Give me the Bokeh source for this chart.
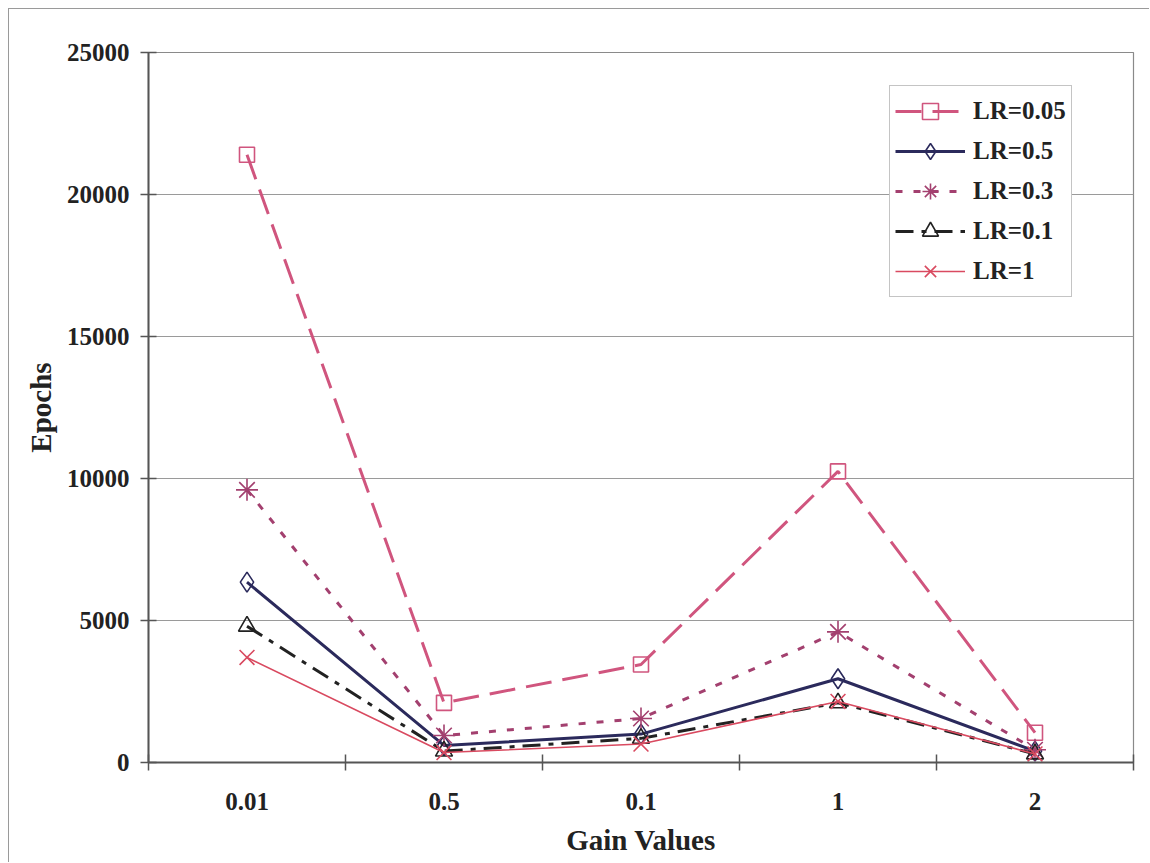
from bokeh.plotting import figure
from bokeh.models import Range1d, FixedTicker, Legend
from bokeh.embed import file_html
from bokeh.resources import INLINE

# Epochs needed to train for each gain value, per learning rate
gains = ["0.01", "0.5", "0.1", "1", "2"]
lr_005 = [21400, 2100, 3450, 10250, 1050]
lr_05 = [6350, 600, 1000, 2950, 400]
lr_03 = [9600, 950, 1550, 4600, 450]
lr_01 = [4800, 400, 850, 2100, 300]
lr_1 = [3700, 350, 650, 2150, 300]
y_ticks = [0, 5000, 10000, 15000, 20000, 25000]

FONT = "Liberation Serif"
TEXT = "#222222"

# category centres on a numeric axis, so tick marks can sit between categories
xs = [i + 0.5 for i in range(len(gains))]

p = figure(
    width=1141, height=854,
    x_range=Range1d(0, len(gains)), y_range=Range1d(0, 25000),
    output_backend="svg", toolbar_location=None,
    min_border_left=139, min_border_right=17,
    min_border_top=43, min_border_bottom=101,
    margin=(8, 0, 0, 8),
    styles={"border-left": "1px solid #9a9a9a", "border-top": "1px solid #9a9a9a"},
)
p.background_fill_color = "white"
p.border_fill_color = "white"
p.outline_line_color = "#8a8a8a"
p.outline_line_width = 1.2

# x axis: labels at centres, tick marks at category boundaries
p.xaxis.ticker = FixedTicker(ticks=xs, minor_ticks=list(range(len(gains) + 1)))
p.xaxis.major_label_overrides = {x: g for x, g in zip(xs, gains)}
p.xaxis.major_tick_line_color = None
p.xaxis.minor_tick_line_color = "#555555"
p.xaxis.minor_tick_line_width = 1.5
p.xaxis.minor_tick_in = 8
p.xaxis.minor_tick_out = 8
p.xaxis.axis_line_color = "#555555"
p.xaxis.axis_line_width = 2
p.xaxis.major_label_standoff = 22
p.xaxis.axis_label = "Gain Values"
p.xaxis.axis_label_standoff = 11

# y axis
p.yaxis.ticker = FixedTicker(ticks=y_ticks)
p.yaxis.major_tick_line_color = "#555555"
p.yaxis.major_tick_line_width = 1.5
p.yaxis.major_tick_in = 8
p.yaxis.major_tick_out = 8
p.yaxis.minor_tick_line_color = None
p.yaxis.axis_line_color = "#555555"
p.yaxis.axis_line_width = 2
p.yaxis.major_label_standoff = 11
p.yaxis.axis_label = "Epochs"
p.yaxis.axis_label_standoff = 7

for ax in (p.xaxis, p.yaxis):
    ax.major_label_text_font = FONT
    ax.major_label_text_font_style = "bold"
    ax.major_label_text_font_size = "25px"
    ax.major_label_text_color = TEXT
    ax.axis_label_text_font = FONT
    ax.axis_label_text_font_style = "bold"
    ax.axis_label_text_font_size = "29px"
    ax.axis_label_text_color = TEXT

p.xgrid.grid_line_color = None
p.ygrid.grid_line_color = "#9a9a9a"
p.ygrid.grid_line_width = 1.2

series = [
    ("LR=0.05", lr_005, "#d0557e", 3, "26 11", "square", 15),
    ("LR=0.5", lr_05, "#2b2a5c", 3, "solid", "diamond", 20),
    ("LR=0.3", lr_03, "#a3406f", 3, "7 11", "asterisk", 22),
    ("LR=0.1", lr_01, "#222222", 3, "18 8 5 8", "triangle", 17),
    ("LR=1", lr_1, "#d94a60", 1.6, "solid", "x", 21),
]

items = []
for label, vals, color, lw, dash, marker, size in series:
    ln = p.line(xs, vals, line_color=color, line_width=lw, line_dash=dash)
    sc = p.scatter(xs, vals, marker=marker, size=size, line_color=color,
                   line_width=1.6, fill_color=None)
    items.append((label, [ln, sc]))

legend = Legend(items=items, location=(741, 465))
legend.label_text_font = FONT
legend.label_text_font_style = "bold"
legend.label_text_font_size = "25px"
legend.label_text_color = TEXT
legend.glyph_width = 70
legend.glyph_height = 40
legend.label_height = 40
legend.label_standoff = 8
legend.spacing = 0
legend.padding = 5
legend.margin = 0
legend.border_line_color = "#8a8a8a"
legend.border_line_width = 1.5
legend.background_fill_color = "white"
legend.background_fill_alpha = 1
p.add_layout(legend)

open("out.html", "w").write(file_html(p, INLINE))
